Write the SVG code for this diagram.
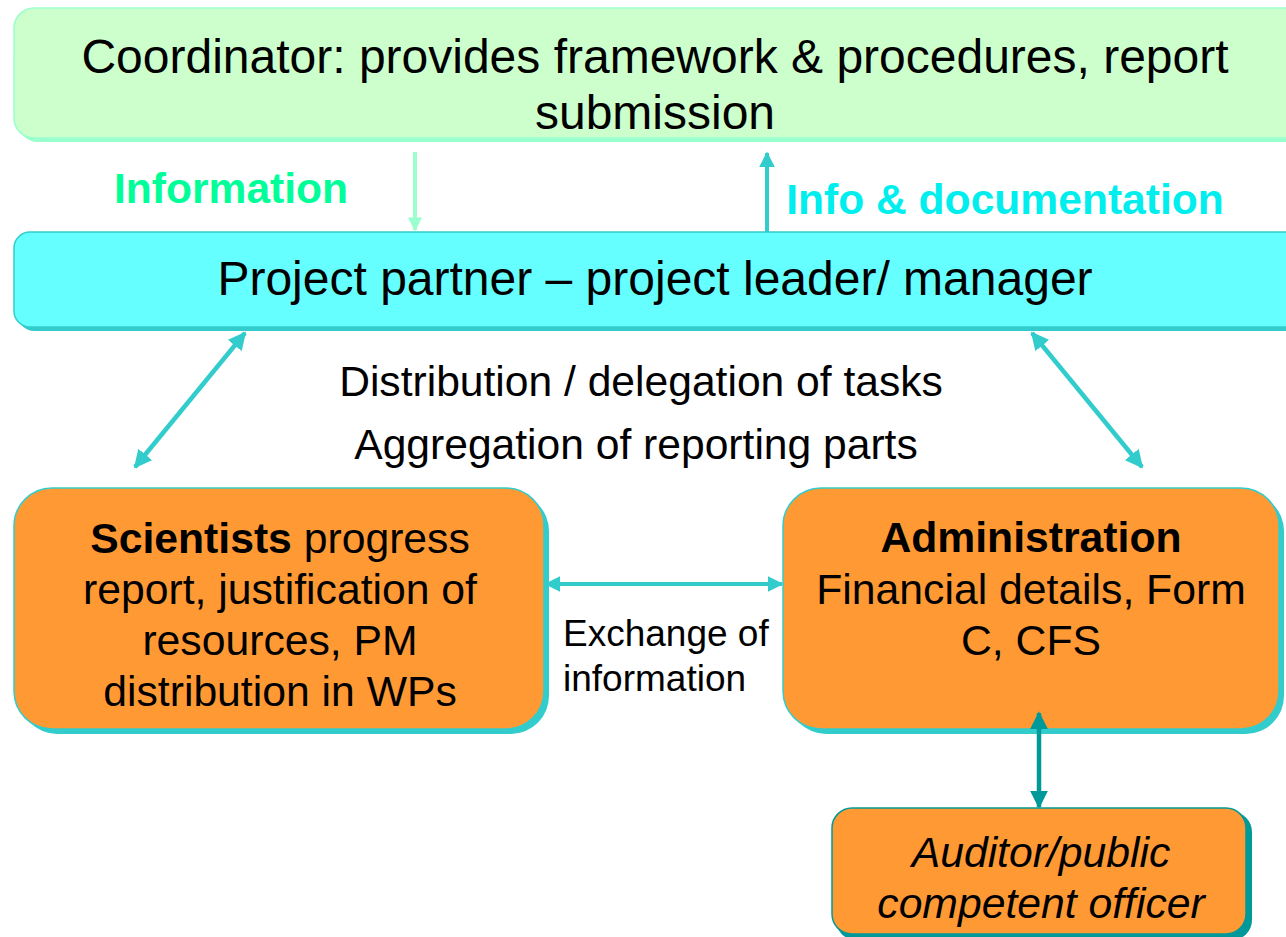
<svg xmlns="http://www.w3.org/2000/svg" width="1286" height="937" viewBox="0 0 1286 937">
<style>
text{font-family:"Liberation Sans",Arial,sans-serif;fill:#000;text-anchor:middle}
.big{font-size:48px}
.box{font-size:42.7px}
.lbl{font-size:42.6px}
.sm{font-size:37px;text-anchor:start}
.b{font-weight:bold}
</style>
<defs>
<marker id="ahG" viewBox="0 0 10 10" refX="9" refY="5" markerWidth="3.5" markerHeight="3.5" orient="auto" markerUnits="strokeWidth"><path d="M0,0 L10,5 L0,10 z" fill="#99FFCC"/></marker>
<marker id="ahC" viewBox="0 0 10 10" refX="9" refY="5" markerWidth="4" markerHeight="4" orient="auto-start-reverse" markerUnits="strokeWidth"><path d="M0,0 L10,5 L0,10 z" fill="#33CCCC"/></marker>
<marker id="ahT" viewBox="0 0 10 10" refX="9" refY="5" markerWidth="4" markerHeight="4" orient="auto-start-reverse" markerUnits="strokeWidth"><path d="M0,0 L10,5 L0,10 z" fill="#009999"/></marker>
</defs>
<rect width="1286" height="937" fill="#fff"/>
<g id="coordinator">
<rect x="18" y="12" width="1290" height="130" rx="20" fill="#99FFCC"/>
<rect x="14" y="8" width="1290" height="130" rx="20" fill="#CCFFCC" stroke="#99FFCC" stroke-width="1.5"/>
<text class="big" x="655" y="73">Coordinator: provides framework &amp; procedures, report</text>
<text class="big" x="655" y="129">submission</text>
</g>
<g id="partner">
<rect x="18" y="236" width="1290" height="95" rx="16" fill="#33CCCC"/>
<rect x="14" y="232" width="1290" height="95" rx="16" fill="#66FFFF" stroke="#33CCCC" stroke-width="1.5"/>
<text class="big" x="655" y="295">Project partner – project leader/ manager</text>
</g>
<g id="scientists">
<rect x="19" y="493" width="530" height="241" rx="38" fill="#33CCCC"/>
<rect x="14" y="488" width="530" height="241" rx="38" fill="#FF9933" stroke="#33CCCC" stroke-width="1.5"/>
<text class="box" x="280" y="553"><tspan class="b">Scientists</tspan> progress</text>
<text class="box" x="280" y="604">report, justification of</text>
<text class="box" x="280" y="655">resources, PM</text>
<text class="box" x="280" y="706">distribution in WPs</text>
</g>
<g id="administration">
<rect x="788" y="493" width="496" height="241" rx="38" fill="#33CCCC"/>
<rect x="783" y="488" width="496" height="241" rx="38" fill="#FF9933" stroke="#33CCCC" stroke-width="1.5"/>
<text class="box b" x="1031" y="552">Administration</text>
<text class="box" x="1031" y="604">Financial details, Form</text>
<text class="box" x="1031" y="655">C, CFS</text>
</g>
<g id="auditor">
<rect x="836" y="812" width="416" height="128" rx="20" fill="#009999"/>
<rect x="832" y="808" width="414" height="126" rx="20" fill="#FF9933" stroke="#009999" stroke-width="1.5"/>
<text class="box" x="1041" y="867" font-style="italic">Auditor/public</text>
<text class="box" x="1041" y="918" font-style="italic">competent officer</text>
</g>
<g id="labels">
<text class="lbl b" x="231" y="203" style="fill:#00FF99">Information</text>
<text class="lbl b" x="1005" y="214" style="fill:#00EEEE">Info &amp; documentation</text>
<text class="lbl" x="641" y="396">Distribution / delegation of tasks</text>
<text class="lbl" x="636" y="459">Aggregation of reporting parts</text>
<text class="sm" x="563" y="646">Exchange of</text>
<text class="sm" x="563" y="691">information</text>
</g>
<g id="connectors" fill="none">
<line x1="415" y1="152" x2="415" y2="230" stroke="#99FFCC" stroke-width="4" marker-end="url(#ahG)"/>
<line x1="767" y1="232" x2="767" y2="153" stroke="#33CCCC" stroke-width="4" marker-end="url(#ahC)"/>
<line x1="245" y1="333" x2="135" y2="467" stroke="#33CCCC" stroke-width="4.5" marker-start="url(#ahC)" marker-end="url(#ahC)"/>
<line x1="1032" y1="333" x2="1142" y2="467" stroke="#33CCCC" stroke-width="4.5" marker-start="url(#ahC)" marker-end="url(#ahC)"/>
<line x1="546" y1="584" x2="782" y2="584" stroke="#33CCCC" stroke-width="4" marker-start="url(#ahC)" marker-end="url(#ahC)"/>
<line x1="1039" y1="713" x2="1039" y2="807" stroke="#009999" stroke-width="4.5" marker-start="url(#ahT)" marker-end="url(#ahT)"/>
</g>
</svg>
